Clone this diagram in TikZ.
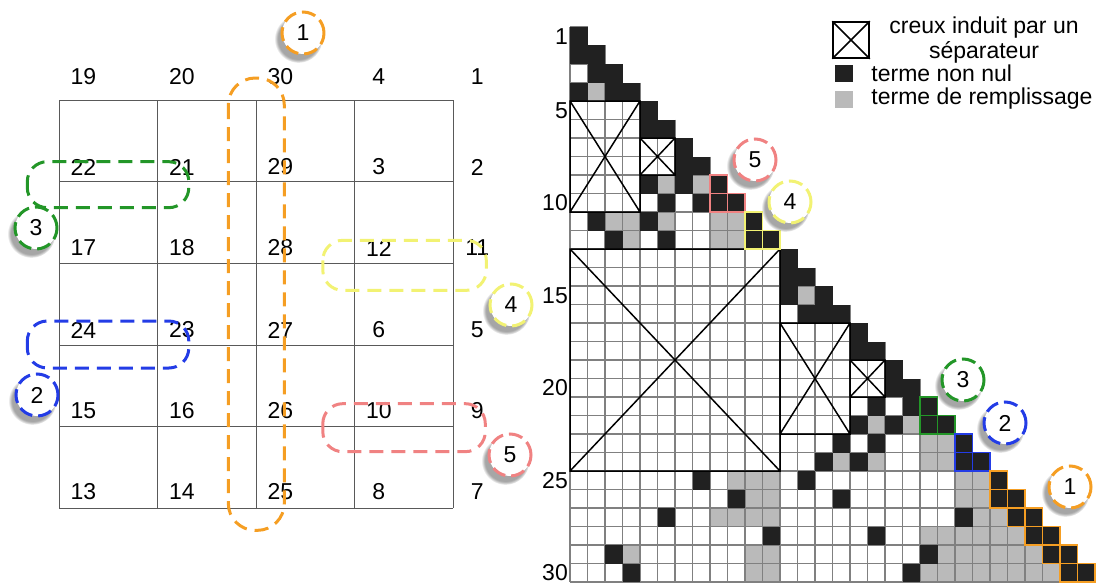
\documentclass[tikz,border=0pt]{standalone}
\usepackage{fontspec}
\setmainfont{Liberation Sans}
\usetikzlibrary{positioning, calc, shadows}

\definecolor{grpone}{RGB}{245,158,35}
\definecolor{grptwo}{RGB}{35,60,230}
\definecolor{grpthree}{RGB}{35,150,40}
\definecolor{grpfour}{RGB}{242,242,115}
\definecolor{grpfive}{RGB}{240,130,130}

\tikzset{
  gridline/.style={draw=black!65, line width=0.8pt},
  grpoval/.style={line width=3pt, dash pattern=on 14pt off 8pt, rounded corners=20pt},
  badge/.style={circle, draw=#1, fill=white, line width=3pt, dash pattern=on 14pt off 6pt,
    minimum size=42pt, inner sep=0pt,
    circular drop shadow={shadow xshift=-4pt, shadow yshift=-5pt, shadow scale=1.15, opacity=0.7}},
  matgrid/.style={draw=black!50, line width=1.4pt},
  nzcell/.style={fill=black!87},
  fillcell/.style={fill=black!27},
  sepbox/.style={draw=black, line width=1.5pt},
  grpcell/.style={draw=#1, line width=1.6pt},
}

\begin{document}
\begin{tikzpicture}[x=1pt, y=-1pt, font=\fontsize{23}{25}\selectfont]
    \useasboundingbox (0,0) rectangle (1113,586);

    % Grid of the domain
    \foreach \c in {0,...,4}
        \draw[gridline] (59.3+98.5*\c,100) -- ++(0,408.3);
    \foreach \r in {0,...,5}
        \draw[gridline] (59.3,100+81.67*\r) -- ++(394,0);

    % Vertices and their numbers
    \foreach \ly/\labs [count=\r] in {77/{19,20,30,4,1}, 167/{22,21,29,3,2},
            248/{17,18,28,12,11}, 330/{24,23,27,6,5}, 411/{15,16,26,10,9},
            492/{13,14,25,8,7}}
        \foreach \lab [count=\c] in \labs {
            \coordinate (v\lab) at ({59.3+98.5*(\c-1)}, {100+81.67*(\r-1)});
            \node (n\lab) at ({83.3+98.5*(\c-1)}, \ly) {\lab};
        }

    % Dashed groups on the domain
    \draw[grpoval, grpone, rounded corners=27pt] ($(v30)+(-28,-22)$) rectangle ($(v25)+(28,22)$);
    \draw[grpoval, grpthree] ($(v22)+(-32,-20)$) rectangle ($(v21)+(31,26)$);
    \draw[grpoval, grptwo] ($(v24)+(-32,-24)$) rectangle ($(v23)+(31,23)$);
    \draw[grpoval, grpfour] ($(v12)+(-32,-23)$) rectangle ($(v11)+(33,27)$);
    \draw[grpoval, grpfive] ($(v10)+(-32,-23)$) rectangle ($(v9)+(32,25)$);

    % Matrix, one unit per cell
    \begin{scope}[shift={(570,27)}, x=17.5pt, y=-18.5pt]
        % fill-in terms
        \foreach \r/\c in {4/2, 9/6, 9/8, 11/3, 11/4, 11/6, 11/9, 11/10, 12/4, 12/9, 12/10,
                15/14, 22/18, 22/20, 23/21, 23/22, 24/16, 24/18, 24/21, 24/22,
                25/10, 25/11, 25/12, 25/23, 25/24, 26/11, 26/12, 26/23, 26/24,
                27/9, 27/10, 27/11, 27/12, 27/24, 27/25,
                28/21, 28/22, 28/23, 28/24, 28/25, 28/26,
                29/4, 29/11, 29/12, 29/22, 29/23, 29/24, 29/25, 29/26, 29/27,
                30/11, 30/12, 30/21, 30/22, 30/23, 30/24, 30/25, 30/26, 30/27, 30/28}
            \fill[fillcell] (\c-1,\r-1) rectangle (\c,\r);

        % lower triangle grid
        \draw[matgrid] (0,0) -- (1,0) (0,0) -- (0,30);
        \foreach \k in {1,...,30}
            \draw[matgrid] (0,\k) -- (\k,\k) (\k,\k-1) -- (\k,30);

        % nonzero terms
        \foreach \k in {1,...,30}
            \fill[nzcell] (\k-1,\k-1) rectangle (\k,\k);
        \foreach \r/\c in {2/1, 3/2, 4/1, 4/3, 6/5, 8/7, 9/5, 9/7, 10/6, 10/8, 10/9,
                11/2, 11/5, 12/3, 12/6, 12/11, 14/13, 15/13, 16/14, 16/15, 18/17,
                20/19, 21/18, 21/20, 22/17, 22/19, 22/21, 23/16, 23/18, 24/15,
                24/17, 24/23, 25/8, 25/14, 26/10, 26/16, 26/25, 27/6, 27/23, 27/26,
                28/12, 28/18, 28/27, 29/3, 29/21, 29/28, 30/4, 30/20, 30/29}
            \fill[nzcell] (\c-1,\r-1) rectangle (\c,\r);

        % holes induced by separators
        \foreach \xa/\ya/\xb/\yb in {0/4/4/10, 4/6/6/8, 0/12/12/24, 12/16/16/22, 16/18/18/20}
            \draw[sepbox] (\xa,\ya) rectangle (\xb,\yb) (\xa,\ya) -- (\xb,\yb) (\xb,\ya) -- (\xa,\yb);

        % separator blocks
        \foreach \r/\c in {9/9, 10/9, 10/10}
            \draw[grpcell=grpfive] (\c-1,\r-1) rectangle (\c,\r);
        \foreach \r/\c in {11/11, 12/11, 12/12}
            \draw[grpcell=grpfour] (\c-1,\r-1) rectangle (\c,\r);
        \foreach \r/\c in {21/21, 22/21, 22/22}
            \draw[grpcell=grpthree] (\c-1,\r-1) rectangle (\c,\r);
        \foreach \r/\c in {23/23, 24/23, 24/24}
            \draw[grpcell=grptwo] (\c-1,\r-1) rectangle (\c,\r);
        \foreach \r/\c in {25/25, 26/25, 26/26, 27/26, 27/27, 28/27, 28/28,
                29/28, 29/29, 30/29, 30/30}
            \draw[grpcell=grpone] (\c-1,\r-1) rectangle (\c,\r);

        % row numbers
        \foreach \r in {1,5,10,15,20,25,30}
            \node[anchor=east, inner sep=2pt] (row\r) at (0,\r-0.5) {\r};
    \end{scope}

    % Legend
    \node[sepbox, minimum width=36pt, minimum height=36pt, inner sep=0pt] (legsep) at (851,40) {};
    \draw[sepbox] (legsep.north west) -- (legsep.south east) (legsep.north east) -- (legsep.south west);
    \node[align=center] (legsepText) at (984,40) {creux induit par un\\séparateur};
    \node[nzcell, minimum width=18pt, minimum height=17pt, inner sep=0pt] (legnz) at (844,73.5) {};
    \node[right=18pt of legnz, inner sep=0pt] (legnzText) {terme non nul};
    \node[fillcell, minimum width=18pt, minimum height=17pt, inner sep=0pt] (legfill) at (844,99) {};
    \node[right=18pt of legfill, inner sep=0pt] (legfillText) {terme de remplissage};

    % Numbered badges
    \node[badge=grpone] (bl1) at (303,33) {1};
    \node[badge=grpthree] (bl3) at (36,228) {3};
    \node[badge=grpfour] (bl4) at (511,305) {4};
    \node[badge=grptwo] (bl2) at (37,395) {2};
    \node[badge=grpfive] (bl5) at (510,455) {5};
    \node[badge=grpfive] (br5) at (755,160) {5};
    \node[badge=grpfour] (br4) at (790,202) {4};
    \node[badge=grpthree] (br3) at (963,380) {3};
    \node[badge=grptwo] (br2) at (1005,423) {2};
    \node[badge=grpone] (br1) at (1070,487) {1};
\end{tikzpicture}
\end{document}
